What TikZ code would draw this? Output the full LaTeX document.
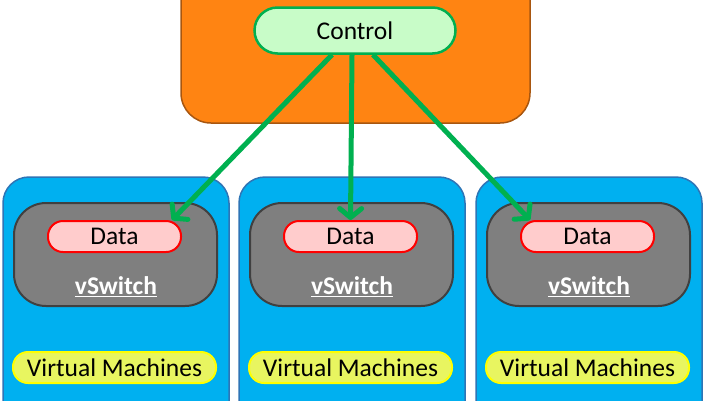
\documentclass[tikz,border=0pt]{standalone}
\usepackage{fontspec}
\setmainfont{Carlito}
\usetikzlibrary{arrows.meta}

\definecolor{ctlorange}{HTML}{FF8412}
\definecolor{ctlorangeline}{HTML}{A8560F}
\definecolor{ctlgreen}{HTML}{C8FCC8}
\definecolor{flowgreen}{HTML}{00B050}
\definecolor{hostblue}{HTML}{00B0F0}
\definecolor{hostblueline}{HTML}{2E75B6}
\definecolor{swgray}{HTML}{7F7F7F}
\definecolor{swgrayline}{HTML}{404040}
\definecolor{datapink}{HTML}{FFCCCC}
\definecolor{vmyellow}{HTML}{E8F560}
\definecolor{vmyellowline}{HTML}{FFFF00}

\tikzset{
  every node/.style={font=\fontsize{25.5}{30}\selectfont, inner sep=0pt},
  orangebox/.style={fill=ctlorange, draw=ctlorangeline, line width=1.5pt, rounded corners=30pt},
  ctrl/.style={fill=ctlgreen, draw=flowgreen, line width=2.5pt, rounded corners=23pt,
    minimum width=201pt, minimum height=46pt},
  hostbox/.style={fill=hostblue, draw=hostblueline, line width=1.5pt, rounded corners=26pt},
  switchbox/.style={fill=swgray, draw=swgrayline, line width=2pt, rounded corners=32pt,
    minimum width=203pt, minimum height=103pt},
  datapill/.style={fill=datapink, draw=red, line width=2pt, rounded corners=15pt,
    minimum width=133pt, minimum height=31pt},
  vswlabel/.style={text=white, font=\fontsize{25.5}{30}\selectfont\bfseries},
  vmpill/.style={fill=vmyellow, draw=vmyellowline, line width=2pt, rounded corners=15pt,
    minimum width=203pt, minimum height=31pt},
  flow/.style={draw=flowgreen, line width=5pt, -{Straight Barb[round, length=9pt, width=22pt]}},
}

\begin{document}
\begin{tikzpicture}[x=1pt, y=-1pt]
\useasboundingbox (0,0) rectangle (708,400);
\clip (0,0) rectangle (708,400);

% controller box, cut off at the top edge
\draw[orangebox] (181,-40) rectangle (530,123);
\node[ctrl] (ctrl) at (355,30.5) {Control};

% three hosts, each with a vSwitch and its VMs
\foreach \i/\x in {1/3,2/239,3/476} {
  \draw[hostbox] (\x,177) rectangle ++(226,260);
  \node[switchbox] (sw\i) at (\x+112.5,254.5) {};
  \node[datapill] (data\i) at (\x+111.5,236.5) {Data};
  \node[vswlabel] (vsw\i) at (\x+113,287) {\underline{vSwitch}};
  \node[vmpill] (vm\i) at (\x+111.5,367.5) {Virtual Machines};
}

% control-to-data flows
\draw[flow] ([xshift=-23pt]ctrl.south) -- ([xshift=-10pt]data1.north east);
\draw[flow] ([xshift=-3pt]ctrl.south) -- (data2.north);
\draw[flow] ([xshift=18pt]ctrl.south) -- ([xshift=10pt]data3.north west);
\end{tikzpicture}
\end{document}
